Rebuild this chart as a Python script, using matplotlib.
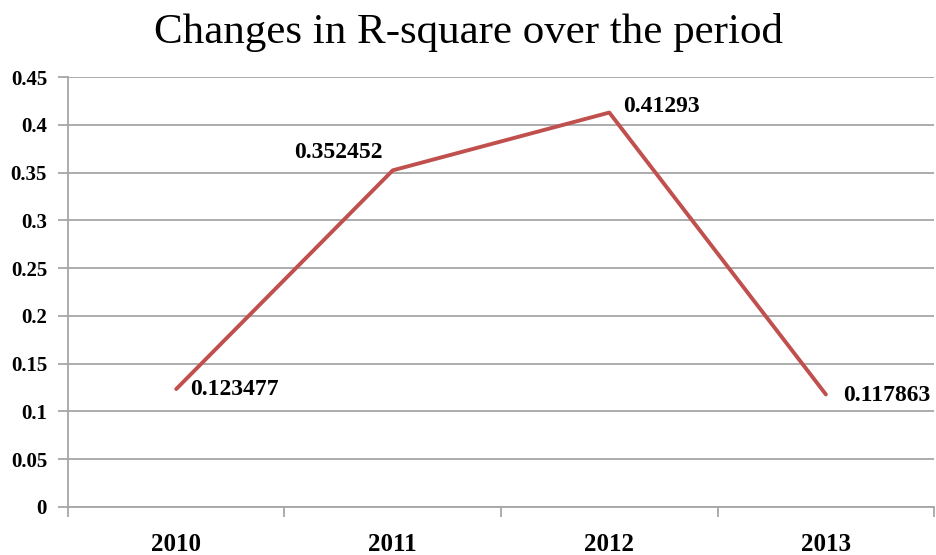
import matplotlib
matplotlib.use("Agg")
import matplotlib.pyplot as plt

# Data
years = ["2010", "2011", "2012", "2013"]
r_square = [0.123477, 0.352452, 0.41293, 0.117863]
value_labels = ["0.123477", "0.352452", "0.41293", "0.117863"]
y_ticks = [0, 0.05, 0.1, 0.15, 0.2, 0.25, 0.3, 0.35, 0.4, 0.45]
y_tick_labels = ["0", "0.05", "0.1", "0.15", "0.2", "0.25", "0.3", "0.35", "0.4", "0.45"]

SERIF = ["Liberation Serif", "DejaVu Serif"]
GRID = "#A6A6A6"

fig = plt.figure(figsize=(9.36, 5.55), dpi=100)
ax = fig.add_axes([0.0726, 0.0865, 0.9254, 0.7745])

x = list(range(len(years)))
ax.plot(x, r_square, color="#C0504D", linewidth=2.8, solid_capstyle="round")

# data labels (pixel offsets from each point)
offsets = [(14, 0, "left"), (-10, 18, "right"), (14, 6, "left"), (17, -1, "left")]
for xi, yi, lab, (dx, dy, ha) in zip(x, r_square, value_labels, offsets):
    ax.annotate(lab, (xi, yi), xytext=(dx, dy), textcoords="offset pixels",
                ha=ha, va="center", fontsize=17, fontweight="bold", family=SERIF)

ax.set_xlim(-0.5, len(years) - 0.5)
ax.set_ylim(0, 0.45)
ax.set_yticks(y_ticks)
ax.set_yticklabels(y_tick_labels, fontsize=15, fontweight="bold", family=SERIF)
ax.yaxis.grid(True, color=GRID, linewidth=1.3)
ax.set_axisbelow(True)

# category axis: ticks between categories, labels at centers
ax.set_xticks([i - 0.5 for i in range(len(years) + 1)])
ax.set_xticklabels([])
ax.set_xticks(x, minor=True)
ax.set_xticklabels(years, minor=True, fontsize=18, fontweight="bold", family=SERIF)
ax.tick_params(axis="x", which="major", length=7, width=1.3, color=GRID, direction="out")
ax.tick_params(axis="x", which="minor", length=0, pad=19)
ax.tick_params(axis="y", length=7, width=1.3, color=GRID, pad=8)

for side in ["top", "right"]:
    ax.spines[side].set_visible(False)
for side in ["left", "bottom"]:
    ax.spines[side].set_color(GRID)
    ax.spines[side].set_linewidth(1.3)

fig.text(0.5, 1 - 43 / 555, "Changes in R-square over the period", ha="center",
         va="baseline", fontsize=31, family=SERIF)

fig.savefig("out.png", dpi=100)
